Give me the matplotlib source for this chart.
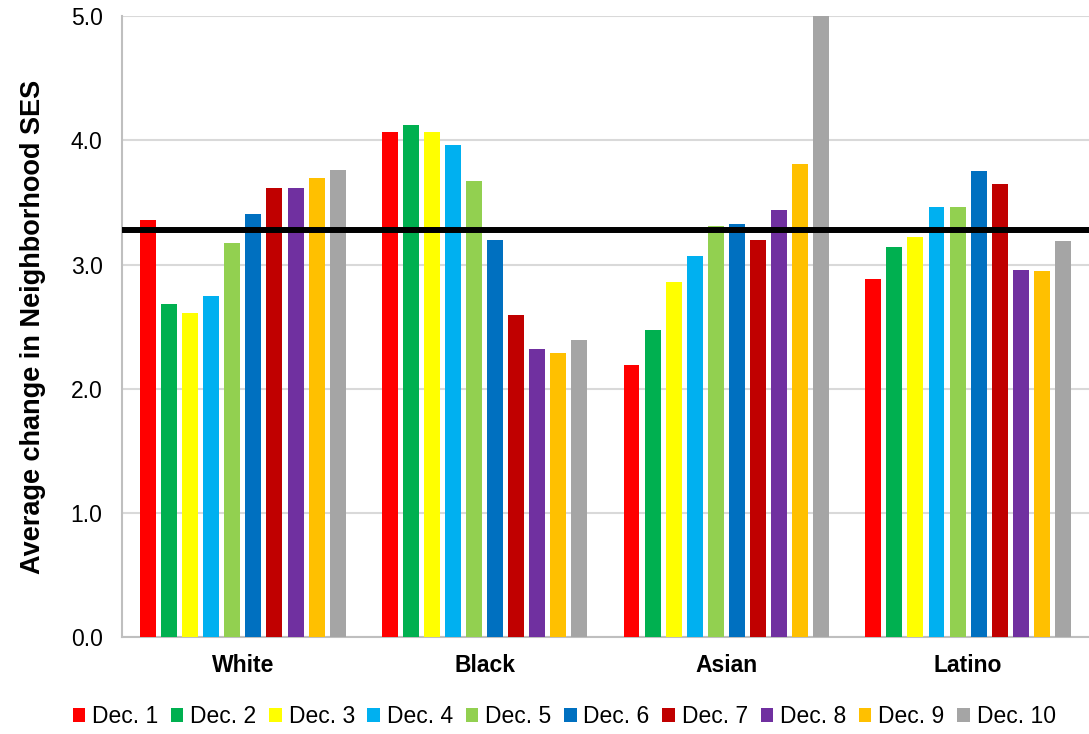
import matplotlib
matplotlib.use("Agg")
import matplotlib.pyplot as plt
from matplotlib.patches import Patch
import numpy as np

plt.rcParams['font.family'] = ['Liberation Sans', 'DejaVu Sans']

groups = ["White", "Black", "Asian", "Latino"]
deciles = ["Dec. 1", "Dec. 2", "Dec. 3", "Dec. 4", "Dec. 5",
           "Dec. 6", "Dec. 7", "Dec. 8", "Dec. 9", "Dec. 10"]

white = [3.36, 2.68, 2.61, 2.75, 3.17, 3.41, 3.62, 3.62, 3.70, 3.76]
black = [4.07, 4.12, 4.07, 3.96, 3.67, 3.20, 2.59, 2.32, 2.29, 2.39]
asian = [2.19, 2.47, 2.86, 3.07, 3.31, 3.33, 3.20, 3.44, 3.81, 5.00]
latino = [2.88, 3.14, 3.22, 3.46, 3.46, 3.75, 3.65, 2.96, 2.95, 3.19]

overall_mean = 3.28

colors = ["#FF0000", "#00B050", "#FFFF00", "#00B0F0", "#92D050",
          "#0070C0", "#C00000", "#7030A0", "#FFC000", "#A5A5A5"]

values = np.array([white, black, asian, latino])  # groups x deciles

fig = plt.figure(figsize=(10.89, 7.34), dpi=100)
ax = fig.add_axes([0.112, 0.132, 0.888, 0.846])

x = np.arange(len(groups))
pitch = 0.0872
width = 0.066
for i, (lab, col) in enumerate(zip(deciles, colors)):
    offs = (i - 4.5) * pitch
    ax.bar(x + offs, values[:, i], width=width, color=col, label=lab, zorder=3)

ax.axhline(overall_mean, color="black", linewidth=4.3, zorder=4)

ax.set_xlim(-0.5, 3.5)
ax.set_ylim(0, 5.0)
ax.set_yticks(np.arange(0, 5.01, 1.0))
ax.set_yticklabels([f"{v:.1f}" for v in np.arange(0, 5.01, 1.0)], fontsize=16.5)
ax.set_xticks(x)
ax.set_xticklabels(groups, fontsize=16.5, fontweight="bold")
ax.tick_params(axis="y", length=0, pad=14)
ax.tick_params(axis="x", length=0, pad=12)

ax.yaxis.grid(True, color="#D9D9D9", linewidth=1.5, zorder=0)
ax.set_axisbelow(True)
for side in ("top", "right"):
    ax.spines[side].set_visible(False)
for side in ("left", "bottom"):
    ax.spines[side].set_color("#BFBFBF")
    ax.spines[side].set_linewidth(1.5)

ax.set_ylabel("Average change in Neighborhood SES", fontsize=19.5,
              fontweight="bold", labelpad=18)

handles = [Patch(facecolor=c, edgecolor="none") for c in colors]
fig.legend(handles, deciles, loc="center", bbox_to_anchor=(0.518, 0.024),
           ncol=10, frameon=False, fontsize=16.5, handlelength=0.55,
           handleheight=0.55, handletextpad=0.3, columnspacing=0.55)

fig.savefig("out.png", dpi=100)
